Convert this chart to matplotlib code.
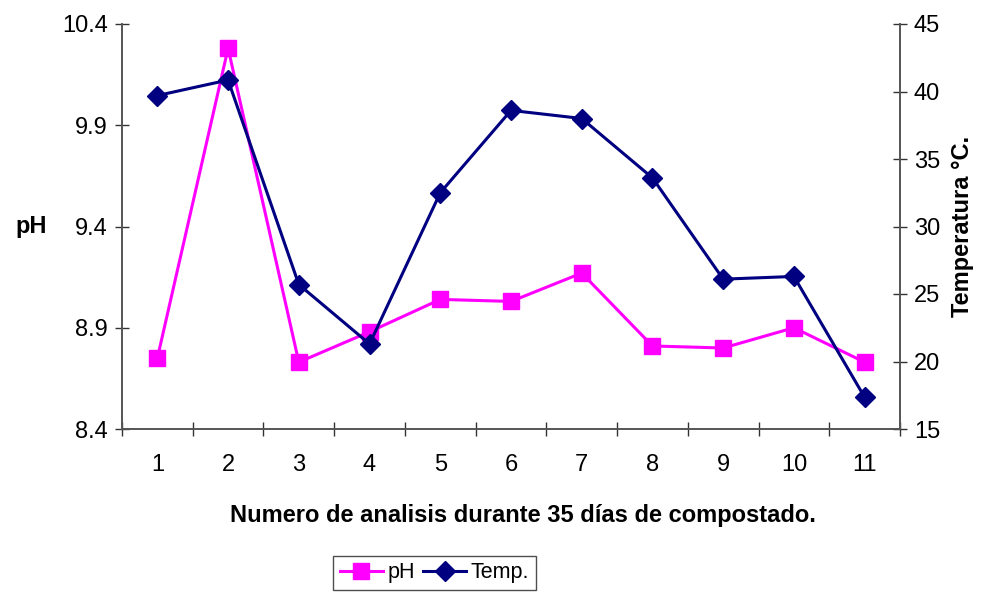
import matplotlib
matplotlib.use("Agg")
import matplotlib.pyplot as plt

plt.rcParams['font.family'] = ['Liberation Sans', 'DejaVu Sans']

analisis = [1, 2, 3, 4, 5, 6, 7, 8, 9, 10, 11]
ph = [8.75, 10.28, 8.73, 8.88, 9.04, 9.03, 9.17, 8.81, 8.80, 8.90, 8.73]
temp = [39.7, 40.85, 25.7, 21.3, 32.5, 38.6, 38.0, 33.6, 26.1, 26.3, 17.35]
ph_ticks = [8.4, 8.9, 9.4, 9.9, 10.4]
temp_ticks = [15, 20, 25, 30, 35, 40, 45]

fig = plt.figure(figsize=(9.81, 5.92), dpi=100)
ax = fig.add_axes([122 / 981, 163 / 592, 778 / 981, 405 / 592])
ax2 = ax.twinx()

l1, = ax.plot(analisis, ph, color='#FF00FF', lw=2.2, marker='s', ms=11.5,
              label='pH', clip_on=False)
l2, = ax2.plot(analisis, temp, color='#000080', lw=2.2, marker='D', ms=10,
               label='Temp.', clip_on=False)

ax.set_xlim(0.5, 11.5)
ax.set_ylim(8.4, 10.4)
ax2.set_ylim(15, 45)
ax.set_yticks(ph_ticks)
ax.set_yticklabels([f"{v:.1f}" for v in ph_ticks])
ax2.set_yticks(temp_ticks)

# category labels centred, tick marks at the boundaries
ax.set_xticks(analisis)
ax.set_xticklabels([str(a) for a in analisis])
ax.set_xticks([a + 0.5 for a in [0] + analisis], minor=True)
ax.tick_params(axis='x', which='major', length=0, pad=18, labelsize=17)
ax.tick_params(axis='x', which='minor', length=10, width=1, direction='inout', color='#333333')
ax.tick_params(axis='y', length=10, width=1, direction='inout', labelsize=17, pad=5, color='#333333')
ax2.tick_params(axis='y', length=10, width=1, direction='inout', labelsize=17, pad=5, color='#333333')

for a in (ax, ax2):
    a.spines['top'].set_visible(False)
    for s in ('left', 'right', 'bottom'):
        a.spines[s].set_color('#555555')
        a.spines[s].set_linewidth(1.2)

ax.set_ylabel('pH', fontsize=17, fontweight='bold', rotation=0, labelpad=22, va='center')
ax2.set_ylabel('Temperatura °C.', fontsize=17, fontweight='bold', labelpad=8)
ax.set_xlabel('Numero de analisis durante 35 días de compostado.', fontsize=17,
              fontweight='bold')
ax.xaxis.set_label_coords(0.515, -0.185)

leg = fig.legend(handles=[l1, l2], loc='upper center', bbox_to_anchor=(0.443, 1 - 556 / 592),
                 ncol=2, frameon=True, fancybox=False, fontsize=15.5, handlelength=2.0,
                 columnspacing=0.4, handletextpad=0.2, borderpad=0.3, borderaxespad=0)
leg.get_frame().set_edgecolor('#222222')
leg.get_frame().set_linewidth(1.0)

fig.savefig('out.png', dpi=100)
